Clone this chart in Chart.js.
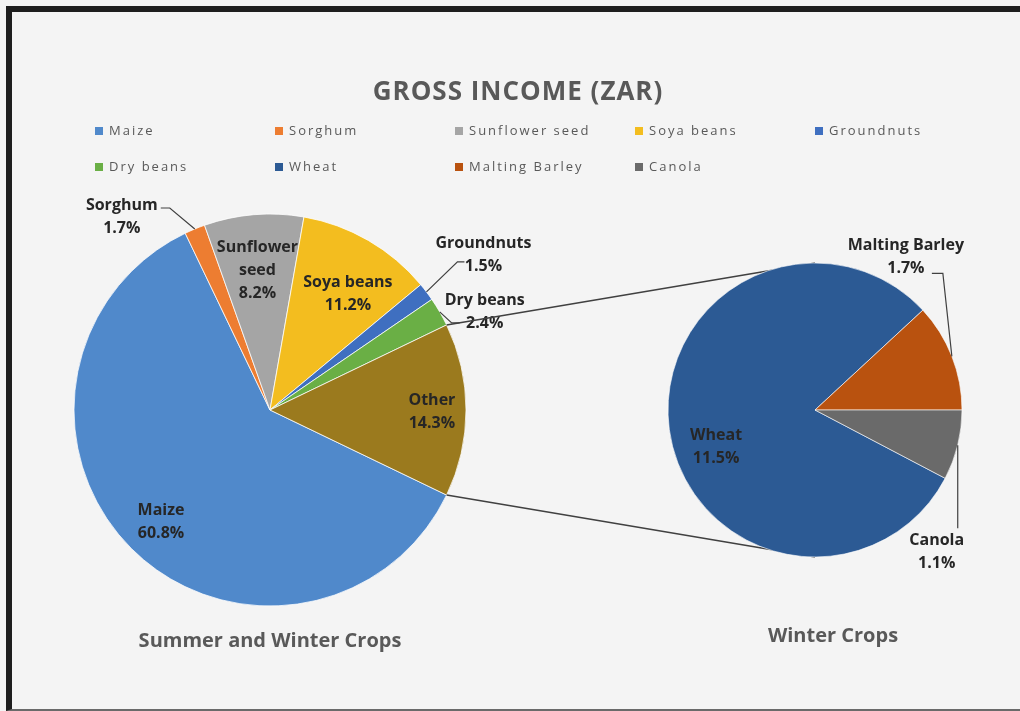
<!DOCTYPE html>
<html>
<head>
<meta charset="utf-8">
<title>Gross Income (ZAR)</title>
<script src="https://cdn.jsdelivr.net/npm/chart.js@4.4.1/dist/chart.umd.min.js"></script>
<style>
  html, body { margin: 0; padding: 0; background: #ffffff; }
  #page { position: relative; width: 1020px; height: 711px; overflow: hidden; background: #f4f4f4; }
  #frame {
    position: absolute; left: 6px; top: 6px; right: 0; bottom: 0;
    border-top: 6px solid #1e1e1e; border-left: 6px solid #1e1e1e; border-bottom: 2px solid #6a6a6a;
    box-sizing: border-box;
  }
  canvas { position: absolute; left: 0; top: 0; }
</style>
</head>
<body>
<div id="page">
  <div id="frame"></div>
  <canvas id="summer" width="1020" height="711"></canvas>
  <canvas id="winter" width="1020" height="711"></canvas>
</div>
<script>
// ---- data ----
const chartTitle = 'GROSS INCOME (ZAR)';
const summerCrops = ['Maize', 'Sorghum', 'Sunflower seed', 'Soya beans', 'Groundnuts', 'Dry beans', 'Other'];
const summerShares = [60.8, 1.7, 8.2, 11.2, 1.5, 2.4, 14.3];
const winterCrops = ['Wheat', 'Malting Barley', 'Canola'];
const winterShares = [11.5, 1.7, 1.1];
const pieCaptions = ['Summer and Winter Crops', 'Winter Crops'];

// ---- styling ----
const summerColors = ['#5089cb', '#ed7d31', '#a5a5a5', '#f3bd1f', '#3f6fc0', '#6aaf45', '#9b7a1e'];
const winterColors = ['#2c5a94', '#b9520f', '#6a6a6a'];
const FONT = '"Open Sans", "DejaVu Sans", sans-serif';
const LABEL_COLOR = '#262626';
const GREY_TEXT = '#595959';

// label placement: 'in' = along the slice's mid-angle at fraction f of the radius;
// 'out' = offset from the slice's outer edge, with a leader line
const summerLabelPlace = [
  { mode: 'in', f: 0.80, dx: 2, dy: 1 },
  { mode: 'out', dx: -73, dy: -12, leader: [[-25, -21], [-34, -21]] },
  { mode: 'in', f: 0.71, dx: -1, dy: -1, wrap: true },
  { mode: 'in', f: 0.70, dx: 9, dy: 3 },
  { mode: 'out', dx: 57, dy: -37, leader: [[31, -30], [38, -30]] },
  { mode: 'out', dx: 45, dy: 0, leader: [[12, 11], [20, 11]] },
  { mode: 'in', f: 0.826, dx: 0, dy: 2 }
];
const winterLabelPlace = [
  { mode: 'in', f: 0.72, dx: 6, dy: 23 },
  { mode: 'out', dx: -46, dy: -99, leader: [[-9, -83], [-20, -83]] },
  { mode: 'out', dx: -21, dy: 107, leader: [[0, 83]] }
];

function pct(v) { return v.toFixed(1) + '%'; }
function sum(arr) { return arr.reduce((a, b) => a + b, 0); }

function drawSliceLabels(chart, names, values, places) {
  const ctx = chart.ctx;
  const arcs = chart.getDatasetMeta(0).data;
  ctx.save();
  ctx.font = 'bold 16px ' + FONT;
  ctx.fillStyle = LABEL_COLOR;
  ctx.textAlign = 'center';
  ctx.textBaseline = 'middle';
  arcs.forEach((arc, i) => {
    const p = places[i];
    const mid = (arc.startAngle + arc.endAngle) / 2;
    const r = arc.outerRadius;
    let cx, cy;
    if (p.mode === 'in') {
      cx = arc.x + Math.cos(mid) * r * p.f + p.dx;
      cy = arc.y + Math.sin(mid) * r * p.f + p.dy;
    } else {
      const ex = arc.x + Math.cos(mid) * r;
      const ey = arc.y + Math.sin(mid) * r;
      cx = ex + p.dx;
      cy = ey + p.dy;
      ctx.save();
      ctx.strokeStyle = '#404040';
      ctx.lineWidth = 1.2;
      ctx.beginPath();
      ctx.moveTo(ex, ey);
      p.leader.forEach(pt => ctx.lineTo(ex + pt[0], ey + pt[1]));
      ctx.stroke();
      ctx.restore();
    }
    const lines = (p.wrap ? names[i].split(' ') : [names[i]]).concat([pct(values[i])]);
    const lh = 23;
    const top = cy - (lines.length - 1) * lh / 2;
    lines.forEach((t, k) => ctx.fillText(t, cx, top + k * lh));
  });
  ctx.restore();
}

// title, legend and caption drawn around the first pie
const pageTextPlugin = {
  id: 'pageText',
  afterDraw(chart) {
    const ctx = chart.ctx;
    ctx.save();
    ctx.fillStyle = GREY_TEXT;
    ctx.textAlign = 'center';
    ctx.textBaseline = 'middle';
    ctx.font = 'bold 26px ' + FONT;
    ctx.letterSpacing = '1px';
    ctx.fillText(chartTitle, 518, 93);

    // legend: every crop except the grouped "Other" slice, then the winter crops
    const names = summerCrops.slice(0, -1).concat(winterCrops);
    const colors = summerColors.slice(0, -1).concat(winterColors);
    ctx.font = '13px ' + FONT;
    ctx.textAlign = 'left';
    ctx.letterSpacing = '2px';
    names.forEach((n, i) => {
      const col = i < 5 ? i : i - 5;
      const row = i < 5 ? 0 : 1;
      const x = 95 + col * 180;
      const y = 131 + row * 36;
      ctx.fillStyle = colors[i];
      ctx.fillRect(x, y - 4, 8, 8);
      ctx.fillStyle = GREY_TEXT;
      ctx.fillText(n, x + 14, y);
    });
    ctx.letterSpacing = '0px';

    const arc = chart.getDatasetMeta(0).data[0];
    ctx.textAlign = 'center';
    ctx.font = 'bold 20px ' + FONT;
    ctx.fillText(pieCaptions[0], arc.x, arc.y + arc.outerRadius + 35);
    ctx.restore();
    drawSliceLabels(chart, summerCrops, summerShares, summerLabelPlace);
  }
};

const commonOptions = {
  responsive: false,
  animation: false,
  events: [],
  plugins: { legend: { display: false }, tooltip: { enabled: false }, title: { display: false } }
};

// start angle (deg, Chart.js convention) that centres the last slice on 3 o'clock
function centreLastOnRight(values) {
  const last = values[values.length - 1];
  return 90 + (last / 2) / sum(values) * 360;
}
// start angle that puts the first slice's start just below the last slice,
// which ends exactly at 3 o'clock
function lastEndsAtRight(values) {
  return 90 + values[values.length - 1] / sum(values) * 360;
}

const summerChart = new Chart(document.getElementById('summer'), {
  type: 'pie',
  data: {
    labels: summerCrops,
    datasets: [{
      data: summerShares,
      backgroundColor: summerColors,
      borderColor: 'rgba(255,255,255,0.75)',
      borderWidth: 1
    }]
  },
  options: Object.assign({}, commonOptions, {
    rotation: centreLastOnRight(summerShares),
    radius: 196,
    layout: { padding: { left: 70, right: 550, top: 210, bottom: 101 } }
  }),
  plugins: [pageTextPlugin]
});

// lines joining the "Other" slice to the secondary pie, drawn beneath it
const connectorPlugin = {
  id: 'connectors',
  beforeDatasetsDraw(chart) {
    const other = summerChart.getDatasetMeta(0).data[summerShares.length - 1];
    const target = chart.getDatasetMeta(0).data[0];
    const ctx = chart.ctx;
    const a0 = other.startAngle, a1 = other.endAngle, r = other.outerRadius;
    ctx.save();
    ctx.strokeStyle = '#404040';
    ctx.lineWidth = 1.5;
    ctx.beginPath();
    ctx.moveTo(other.x + Math.cos(a0) * r, other.y + Math.sin(a0) * r);
    ctx.lineTo(target.x, target.y - target.outerRadius);
    ctx.moveTo(other.x + Math.cos(a1) * r, other.y + Math.sin(a1) * r);
    ctx.lineTo(target.x, target.y + target.outerRadius);
    ctx.stroke();
    ctx.restore();
  },
  afterDraw(chart) {
    const ctx = chart.ctx;
    const arc = chart.getDatasetMeta(0).data[0];
    ctx.save();
    ctx.fillStyle = GREY_TEXT;
    ctx.textAlign = 'center';
    ctx.textBaseline = 'middle';
    ctx.font = 'bold 20px ' + FONT;
    ctx.fillText(pieCaptions[1], arc.x + 18, arc.y + arc.outerRadius + 79);
    ctx.restore();
    drawSliceLabels(chart, winterCrops, winterShares, winterLabelPlace);
  }
};

const winterChart = new Chart(document.getElementById('winter'), {
  type: 'pie',
  data: {
    labels: winterCrops,
    datasets: [{
      data: winterShares,
      backgroundColor: winterColors,
      borderColor: 'rgba(255,255,255,0.6)',
      borderWidth: 1
    }]
  },
  options: Object.assign({}, commonOptions, {
    rotation: lastEndsAtRight(winterShares),
    radius: 147,
    layout: { padding: { left: 665, right: 55, top: 260, bottom: 151 } }
  }),
  plugins: [connectorPlugin]
});
</script>
</body>
</html>
